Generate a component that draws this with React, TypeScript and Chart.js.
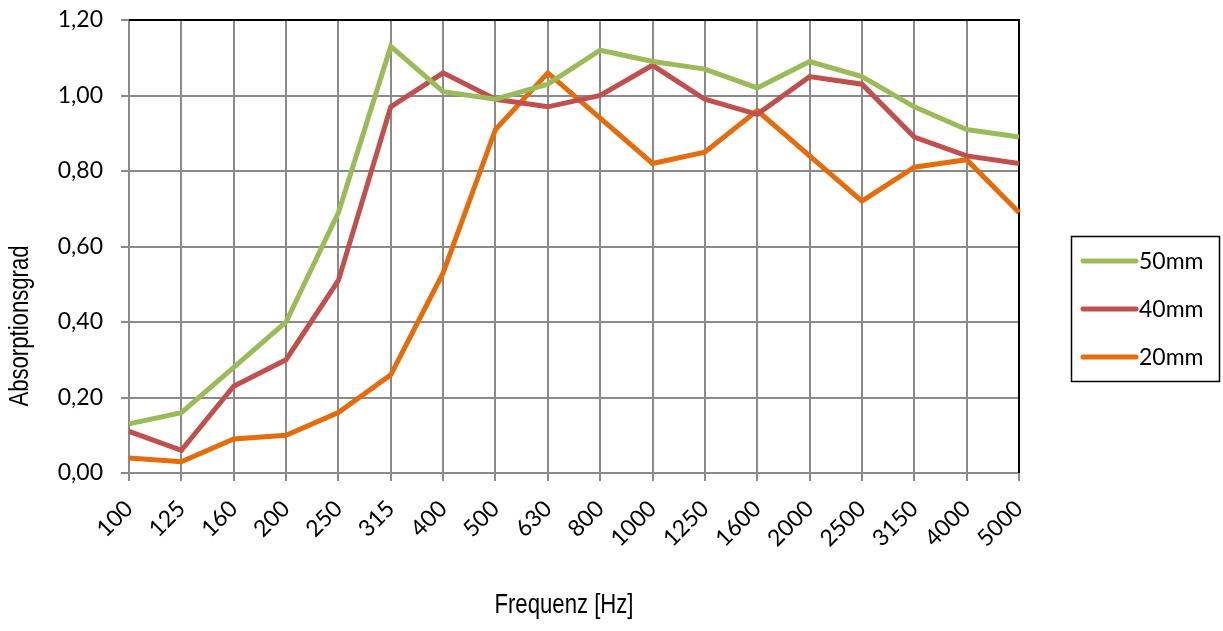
import React, { useEffect, useRef } from "react";
import { Chart, registerables } from "chart.js";

Chart.register(...registerables);

const categories = ["100", "125", "160", "200", "250", "315", "400", "500", "630", "800", "1000", "1250", "1600", "2000", "2500", "3150", "4000", "5000"];
const values50mm = [0.13, 0.16, 0.28, 0.40, 0.69, 1.13, 1.01, 0.99, 1.03, 1.12, 1.09, 1.07, 1.02, 1.09, 1.05, 0.97, 0.91, 0.89];
const values40mm = [0.11, 0.06, 0.23, 0.30, 0.51, 0.97, 1.06, 0.99, 0.97, 1.00, 1.08, 0.99, 0.95, 1.05, 1.03, 0.89, 0.84, 0.82];
const values20mm = [0.04, 0.03, 0.09, 0.10, 0.16, 0.26, 0.53, 0.91, 1.06, 0.94, 0.82, 0.85, 0.96, 0.84, 0.72, 0.81, 0.83, 0.69];
const seriesNames = ["50mm", "40mm", "20mm"];
const seriesColors = ["#9BBB59", "#C0504D", "#E46C0A"];
const yMin = 0;
const yMax = 1.2;
const yStep = 0.2;
const xTitle = "Frequenz [Hz]";
const yTitle = "Absorptionsgrad";

const TICK_FONT = "Lato, 'Open Sans', sans-serif";
const TITLE_FONT = "'Liberation Sans', Arial, sans-serif";
const GRID = "#8A8A8A";

function narrowText(ctx: any, text: string, x: number, y: number, rot: number) {
  ctx.save();
  ctx.translate(x, y);
  ctx.rotate(rot);
  ctx.scale(0.82, 1);
  ctx.fillText(text, 0, 0);
  ctx.restore();
}

const decorPlugin = {
  id: "decor",
  beforeDatasetsDraw(chart: any) {
    const { ctx, chartArea: a } = chart;
    ctx.save();
    ctx.strokeStyle = "#000";
    ctx.lineWidth = 2;
    ctx.beginPath();
    ctx.moveTo(a.left, a.top);
    ctx.lineTo(a.right, a.top);
    ctx.lineTo(a.right, a.bottom);
    ctx.stroke();
    ctx.restore();
  },
  afterDraw(chart: any) {
    const { ctx, chartArea: a } = chart;
    ctx.save();
    ctx.fillStyle = "#000";
    ctx.font = `27px ${TITLE_FONT}`;
    ctx.textAlign = "center";
    ctx.textBaseline = "middle";
    narrowText(ctx, xTitle, (a.left + a.right) / 2 - 10, 606, 0);
    narrowText(ctx, yTitle, 21, 326, -Math.PI / 2);
    ctx.restore();

    ctx.save();
    ctx.strokeStyle = "#000";
    ctx.lineWidth = 1.5;
    ctx.strokeRect(1071.5, 236.5, 148, 145);
    ctx.font = `23px ${TICK_FONT}`;
    ctx.textAlign = "left";
    ctx.textBaseline = "middle";
    seriesNames.forEach((name, i) => {
      const y = 261 + i * 48;
      ctx.strokeStyle = seriesColors[i];
      ctx.lineWidth = 5;
      ctx.lineCap = "round";
      ctx.beginPath();
      ctx.moveTo(1083, y);
      ctx.lineTo(1136, y);
      ctx.stroke();
      ctx.fillStyle = "#000";
      ctx.fillText(name, 1139, y + 1);
    });
    ctx.restore();
  },
};

export default function App() {
  const canvasRef = useRef<HTMLCanvasElement | null>(null);

  useEffect(() => {
    document.body.style.margin = "0";
    const canvas = canvasRef.current;
    if (!canvas) return;
    const data = [values50mm, values40mm, values20mm];
    const chart = new Chart(canvas, {
      type: "line",
      data: {
        labels: categories,
        datasets: data.map((vals, i) => ({
          label: seriesNames[i],
          data: vals,
          borderColor: seriesColors[i],
          backgroundColor: seriesColors[i],
          borderWidth: 5,
          pointRadius: 0,
          tension: 0,
          fill: false,
        })),
      },
      options: {
        responsive: false,
        animation: false,
        events: [],
        layout: { padding: { top: 20, right: 204, left: 0, bottom: 0 } },
        plugins: {
          legend: { display: false },
          title: { display: false },
          tooltip: { enabled: false },
        },
        scales: {
          x: {
            type: "category",
            offset: false,
            grid: {
              color: GRID,
              lineWidth: 2,
              tickLength: 8,
              offset: false,
            },
            border: { color: GRID, width: 2 },
            ticks: {
              autoSkip: false,
              maxRotation: 45,
              minRotation: 45,
              padding: 14,
              color: "#000",
              font: { family: TICK_FONT, size: 23 },
            },
            afterFit(scale: any) {
              scale.height = 158;
              scale.paddingLeft = 0;
              scale.paddingRight = 0;
            },
          },
          y: {
            min: yMin,
            max: yMax,
            grid: { color: GRID, lineWidth: 2, tickLength: 8 },
            border: { color: GRID, width: 2 },
            ticks: {
              stepSize: yStep,
              padding: 18,
              color: "#000",
              font: { family: TICK_FONT, size: 23 },
              callback: (v: any) => Number(v).toFixed(2).replace(".", ","),
            },
            afterFit(scale: any) {
              scale.width = 129;
              scale.paddingTop = 0;
              scale.paddingBottom = 0;
            },
          },
        },
      },
      plugins: [decorPlugin],
    });
    return () => chart.destroy();
  }, []);

  return (
    <div style={{ width: 1223, height: 631 }}>
      <canvas ref={canvasRef} width={1223} height={631} style={{ display: "block" }} />
    </div>
  );
}
